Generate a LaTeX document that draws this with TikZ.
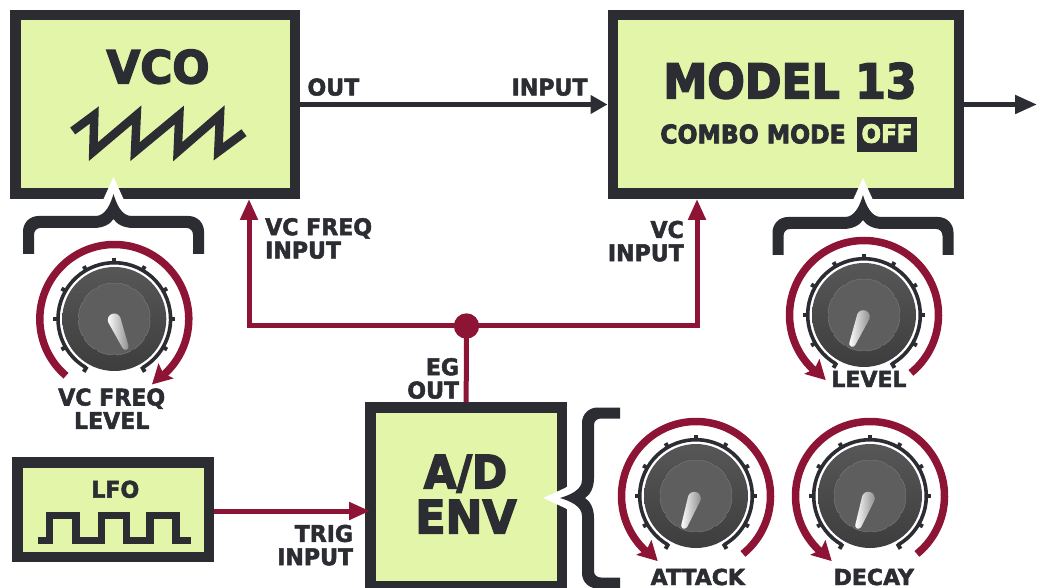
\documentclass[tikz,border=0pt]{standalone}
\usepackage{fontspec}
\usetikzlibrary{arrows.meta,calc}
\newfontfamily\hv[FakeStretch=0.92,BoldFeatures={FakeBold=3.2}]{DejaVu Sans}
\newfontfamily\hvb[FakeStretch=0.96,BoldFeatures={FakeBold=3.2}]{DejaVu Sans}
\newfontfamily\hvl[FakeStretch=0.96,BoldFeatures={FakeBold=2.2}]{DejaVu Sans}
\newfontfamily\hvw[FakeStretch=1.0,BoldFeatures={FakeBold=2.2}]{DejaVu Sans}
\definecolor{ink}{HTML}{2B2D33}
\definecolor{leaf}{HTML}{E3F5A9}
\definecolor{wine}{HTML}{8D1434}
\newcommand{\fs}[2]{\hv\bfseries\fontsize{#1}{#2}\selectfont}
\newcommand{\fb}[2]{\hvb\bfseries\fontsize{#1}{#2}\selectfont}
\newcommand{\fl}[2]{\hvl\bfseries\fontsize{#1}{#2}\selectfont}
\newcommand{\fw}[2]{\hvw\bfseries\fontsize{#1}{#2}\selectfont}
\tikzset{
  block/.style={draw=ink,fill=leaf,line width=10.5pt,rectangle,inner sep=0pt},
  darkline/.style={draw=ink,line width=5pt,-{Triangle[length=17pt,width=18pt]}},
  darkout/.style={draw=ink,line width=5pt,-{Triangle[length=22pt,width=18pt]}},
  redline/.style={draw=wine,line width=5pt,-{Triangle[length=21pt,width=17pt]}},
  redplain/.style={draw=wine,line width=5pt},
  big/.style={text=ink,inner sep=0pt,anchor=base,font=\fs{46}{46}},
  lab/.style={text=ink,inner sep=0pt,font=\fl{23}{23.3}},
  wave/.style={draw=ink,miter limit=12}
}
\newcommand{\bracket}[3]{%
  \begin{scope}[shift={(#1,#2)},rotate=#3]
    \fill[white] (0,-17) -- (-10,5) -- (-22,24) -- (22,24) -- (10,5) -- cycle;
    \fill[ink] (0,0) .. controls (-3,10) and (-8,22) .. (-18,22) -- (-75,22)
      .. controls (-84,22) and (-90.5,29) .. (-90.5,37.5) -- (-90.5,60) -- (-79.5,60) -- (-79.5,41)
      .. controls (-79.5,37) and (-77,34) .. (-73,34) -- (-20,34)
      .. controls (-10,34) and (-3,30) .. (0,25)
      .. controls (3,30) and (10,34) .. (20,34) -- (73,34)
      .. controls (77,34) and (79.5,37) .. (79.5,41) -- (79.5,60) -- (90.5,60) -- (90.5,37.5)
      .. controls (90.5,29) and (84,22) .. (75,22) -- (18,22)
      .. controls (8,22) and (3,10) .. (0,0) -- cycle;
  \end{scope}}
% x, y, arc start, arc end, tip angle, direction, pointer top x, top y, pointer rotation
\newcommand{\knob}[9]{%
  \begin{scope}[shift={(#1,#2)},y=1pt]
    \draw[wine,line width=7.5pt] (#3:74.5) arc[start angle=#3,end angle=#4,radius=74.5];
    \fill[wine] (#5:75.5) -- ({#5+#6*15}:84) -- ({#5+#6*12}:73) -- ({#5+#6*15}:62.5) -- cycle;
    \draw[ink,line width=3.6pt] (240:56.3) arc[start angle=240,end angle=-60,radius=56.3];
    \foreach \a in {-60,-30,...,240}{\draw[ink,line width=4pt] (\a:55) -- (\a:61);}
    \shade[top color=black!66!white,bottom color=black!76!white] (0,0) circle[radius=52];
    \draw[fill=black!63!white,draw=black!55!white,line width=.6pt]
      plot[domain=0:360,samples=360] (\x:{36-1.2*((1+cos(12*\x))/2)^20}) -- cycle;
    \begin{scope}[shift={(#7,#8)},rotate=#9]
      \shade[left color=white,right color=black!45!white]
        (-6.5,0) arc[start angle=180,end angle=0,radius=6.5] -- (3.2,-29)
        arc[start angle=0,end angle=-180,radius=3.2] -- cycle;
    \end{scope}
  \end{scope}}
\begin{document}
\begin{tikzpicture}[x=1pt,y=-1pt]
\useasboundingbox (0,0) rectangle (1037,588);
\clip (0,0) rectangle (1037,588);
% blocks
\node[block,minimum width=279.5pt,minimum height=178.5pt] (VCO) at (155,104.5) {};
\node[block,minimum width=346pt,minimum height=178.5pt] (MODEL) at (785.75,104.5) {};
\node[block,minimum width=191.8pt,minimum height=178.5pt] (ENV) at (466.15,496.5) {};
\node[block,minimum width=191.5pt,minimum height=94.5pt] (LFO) at (113,509.5) {};
% block texts
\node[big,font=\fb{45.5}{46}] (vcotext) at (158,83.3) {VCO};
\node[big,font=\fs{48}{48}] (modeltext) at (790,98.3) {MODEL 13};
\node[text=ink,inner sep=0pt,anchor=base,font=\fs{25.5}{26}] (combotext) at (753,143.3) {COMBO MODE};
\fill[ink] (856.7,117.3) rectangle (917.3,151.7);
\node[text=leaf,inner sep=0pt,anchor=base,font=\fs{25}{25}] (offtext) at (887,142.7) {OFF};
\node[big] (adtext) at (465.5,488.3) {A/D};
\node[big,font=\fb{46}{46}] (envtext) at (466,533.3) {ENV};
\node[lab,anchor=base] (lfotext) at (115.3,497.7) {LFO};
% waves
\draw[wave,line width=8.5pt] (72.7,131) -- (94.3,115) -- (93.3,151.7) -- (136.7,115) -- (135,151.7) -- (179.3,115) -- (177.7,151.7) -- (220,115) -- (218.3,151.7) -- (244,132.7);
\draw[wave,line width=7.5pt] (37.7,540.7) -- (49.3,540.7) -- (49.3,515.3) -- (76,515.3) -- (76,540.7) -- (101.7,540.7) -- (101.7,515.3) -- (126.7,515.3) -- (126.7,540.7) -- (150,540.7) -- (150,515.3) -- (176,515.3) -- (176,540.7) -- (190.7,540.7);
% connectors
\coordinate (sysout) at (1037,104.5);
\coordinate (vcfin) at (249,199);
\coordinate (vcin) at (697,199);
\coordinate (trigin) at (370,511);
\draw[darkline] (VCO.east) -- (MODEL.west);
\draw[darkout] (MODEL.east) -- (sysout);
\node[circle,fill=wine,minimum size=25.4pt,inner sep=0pt] (junction) at (466.5,326) {};
\draw[redline] (junction.center) -| (vcfin);
\draw[redline] (junction.center) -| (vcin);
\draw[redplain] (junction.center) -- (ENV.north);
\draw[redline] (LFO.east |- trigin) -- (trigin);
% connector labels
\node[lab,anchor=south west] (outlabel) at (307.3,96) {OUT};
\node[lab,anchor=south east] (inputlabel) at (587.7,96) {INPUT};
\node[lab,anchor=south west,align=left] (vcflabel) at (265,259) {VC FREQ\\INPUT};
\node[lab,anchor=south east,align=right] (vclabel) at (684,261.7) {VC\\INPUT};
\node[lab,anchor=south east,align=right] (eglabel) at (459.3,399) {EG\\OUT};
\node[lab,anchor=south east,align=right] (triglabel) at (353.3,565.7) {TRIG\\INPUT};
% braces
\bracket{113.5}{194}{0}
\bracket{863}{195}{0}
\bracket{560}{498}{90}
% knobs
\knob{114.3}{319}{229.6}{-48}{-60}{1}{0}{-1}{22.7}
\knob{864}{315}{-51}{228}{239.5}{-1}{-0.7}{-1.7}{-22}
\knob{696}{496}{-51}{228}{239.5}{-1}{-1.7}{-2.3}{-20}
\knob{870}{496}{-51}{228}{239.5}{-1}{-1.7}{-2.3}{-20}
% knob labels
\node[lab,anchor=south,align=center] (fqlabel) at (111.7,429) {VC FREQ\\LEVEL};
\node[lab,anchor=base,font=\fw{22}{22}] (levlabel) at (869,387) {LEVEL};
\node[lab,anchor=base,font=\fw{22}{22}] (atklabel) at (697.8,585) {ATTACK};
\node[lab,anchor=base,font=\fw{22}{22}] (declabel) at (873.8,585) {DECAY};
\end{tikzpicture}
\end{document}
